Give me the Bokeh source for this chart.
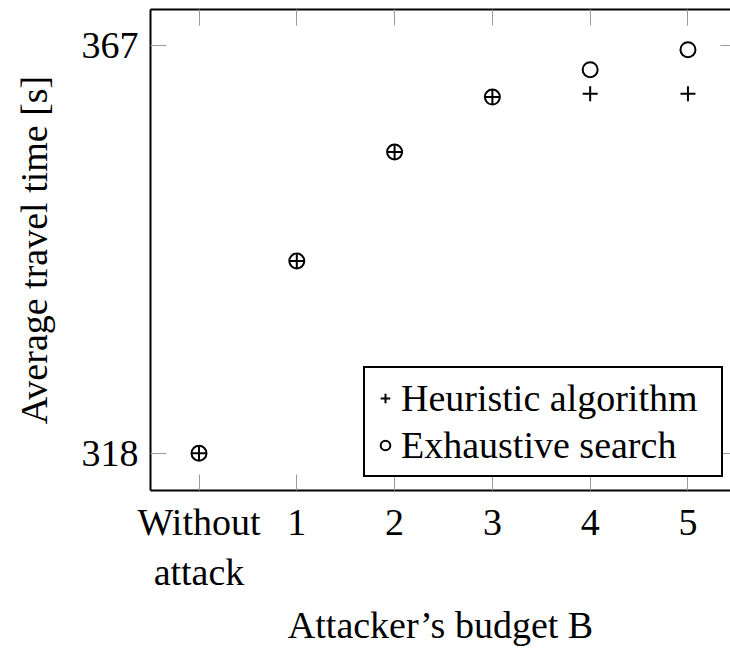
from bokeh.plotting import figure
from bokeh.models import FixedTicker, LinearAxis, Range1d, Legend, LegendItem
from bokeh.embed import file_html
from bokeh.resources import INLINE

# ---- data ----
budgets = [0, 1, 2, 3, 4, 5]
budget_labels = ["Without\nattack", "1", "2", "3", "4", "5"]
heuristic = [318.0, 341.1, 354.2, 360.8, 361.2, 361.2]
exhaustive = [318.0, 341.1, 354.2, 360.8, 364.1, 366.5]
y_ticks = [318, 367]

FONT = "Liberation Serif"
FS = "38px"

p = figure(width=730, height=659, output_backend="svg", toolbar_location=None,
           x_range=Range1d(-0.496, 5.435), y_range=Range1d(313.52, 371.33),
           min_border_left=150, min_border_right=0, min_border_top=9,
           min_border_bottom=169, x_axis_location=None, y_axis_location=None)
p.outline_line_color = None
p.xgrid.visible = False
p.ygrid.visible = False
p.background_fill_color = "white"
p.border_fill_color = "white"

def style(ax, labels=True):
    ax.axis_line_color = "black"
    ax.axis_line_width = 2
    ax.major_tick_line_color = "#9a9a9a"
    ax.major_tick_line_width = 1
    ax.major_tick_in = 16
    ax.major_tick_out = 0
    ax.minor_tick_line_color = None
    ax.major_label_text_font = FONT
    ax.major_label_text_font_size = FS
    ax.major_label_text_color = "black"
    ax.axis_label_text_font = FONT
    ax.axis_label_text_font_size = FS
    ax.axis_label_text_font_style = "normal"
    ax.axis_label_text_color = "black"
    if not labels:
        ax.major_label_text_font_size = "0px"
        ax.major_label_text_color = None
        ax.major_label_standoff = 0
        ax.axis_label = None

# bottom
xb = LinearAxis(ticker=FixedTicker(ticks=budgets), axis_label="Attacker\u2019s budget B")
style(xb)
xb.major_label_overrides = {b: l for b, l in zip(budgets, budget_labels)}
xb.major_label_standoff = 10
xb.axis_label_standoff = 8
p.add_layout(xb, "below")

# top (mirror)
xt = LinearAxis(ticker=FixedTicker(ticks=budgets))
style(xt, labels=False)
p.add_layout(xt, "above")

# left
yl = LinearAxis(ticker=FixedTicker(ticks=y_ticks), axis_label="Average travel time [s]")
style(yl)
yl.major_label_standoff = 12
yl.axis_label_standoff = 24
p.add_layout(yl, "left")

# right (mirror, frame border beyond view)
yr = LinearAxis(ticker=FixedTicker(ticks=y_ticks))
style(yr, labels=False)
yr.axis_line_color = None
yr.axis_line_alpha = 0
yr.major_tick_in = 10
p.add_layout(yr, "right")

r_h = p.scatter(budgets, heuristic, marker="cross", size=15, line_width=2,
                line_color="black")
r_e = p.scatter(budgets, exhaustive, marker="circle", size=15, line_width=2,
                line_color="black", fill_color=None)

legend = Legend(items=[LegendItem(label="Heuristic algorithm", renderers=[r_h]),
                       LegendItem(label="Exhaustive search", renderers=[r_e])],
                location=(213, 13))
legend.label_text_font = FONT
legend.label_text_font_size = FS
legend.label_text_color = "black"
legend.border_line_color = "black"
legend.border_line_alpha = 1
legend.border_line_width = 2
legend.background_fill_color = "white"
legend.background_fill_alpha = 1
legend.padding = 8
legend.spacing = 3
legend.glyph_width = 24
legend.glyph_height = 38
legend.label_height = 38
legend.label_width = 312
legend.label_standoff = 4
legend.margin = 0
p.add_layout(legend, "center")

open("out.html", "w").write(file_html(p, INLINE))
